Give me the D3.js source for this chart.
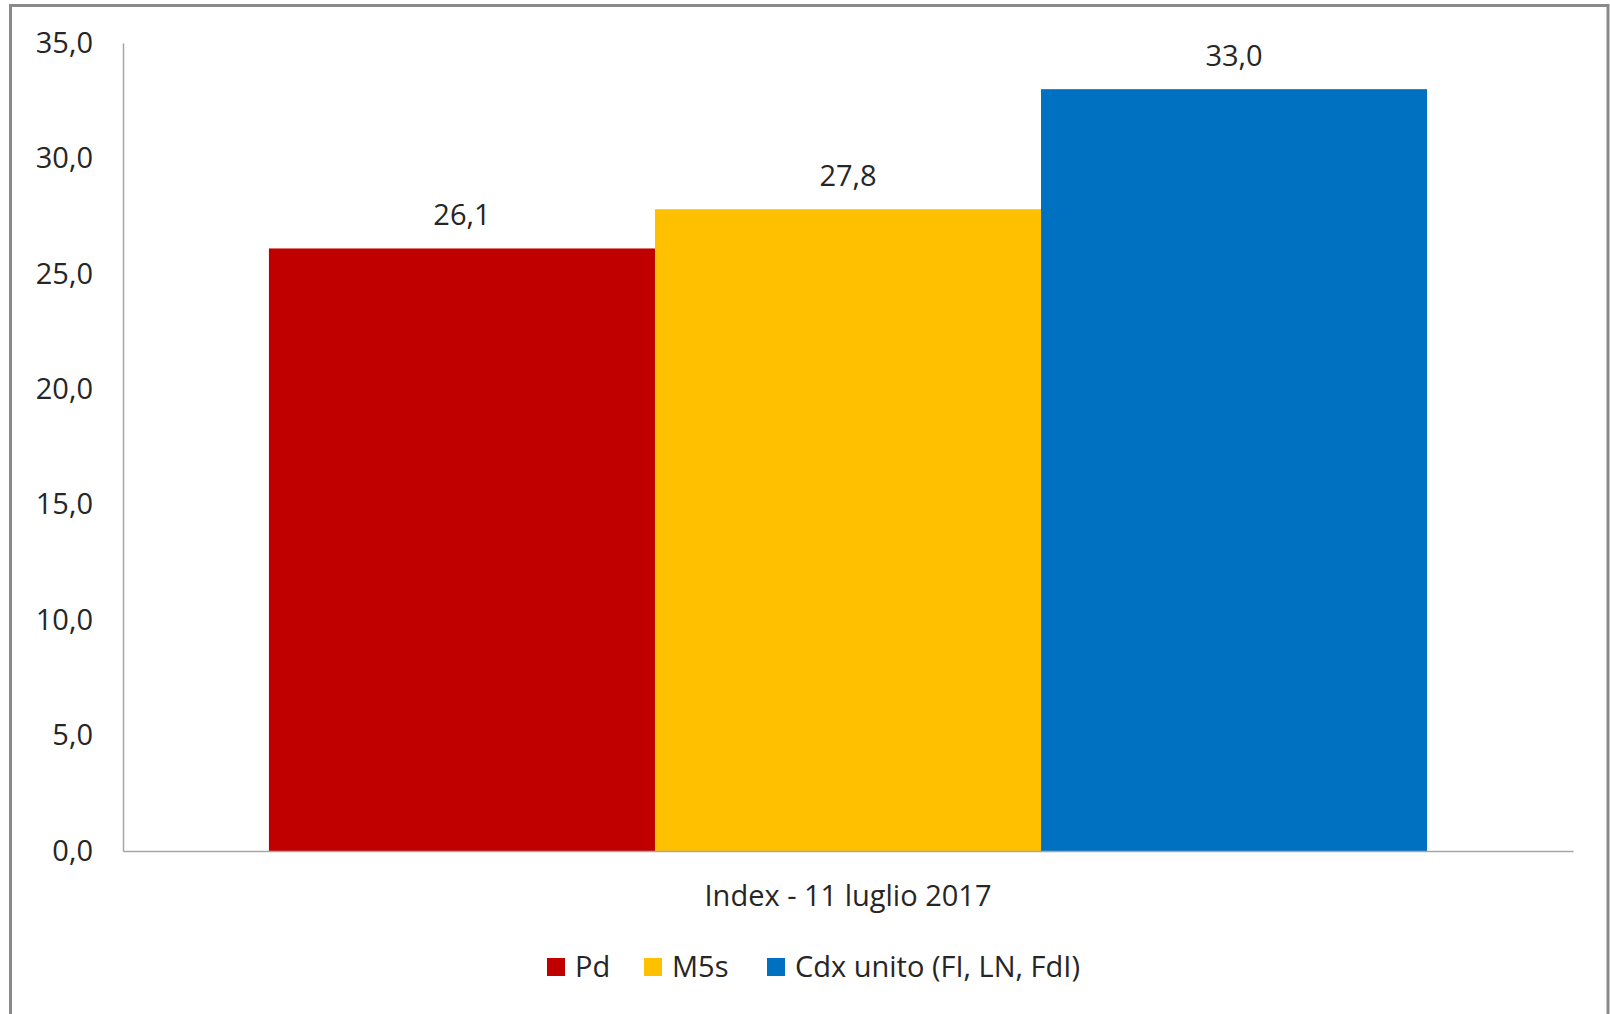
<!DOCTYPE html>
<html>
<head>
<meta charset="utf-8">
<script src="https://cdn.jsdelivr.net/npm/d3@7"></script>
<style>
  html, body { margin: 0; padding: 0; background: #fff; }
  svg { display: block; }
  text { font-family: "Open Sans", "Noto Sans", sans-serif; fill: #262626; }
</style>
</head>
<body>
<script>
// ---- data ----
const categories = ["Index - 11 luglio 2017"];
const seriesNames = ["Pd", "M5s", "Cdx unito (FI, LN, FdI)"];
const seriesValues = [26.1, 27.8, 33.0];
const seriesColors = ["#C00000", "#FFC000", "#0070C0"];
const yTicks = [0, 5, 10, 15, 20, 25, 30, 35];

(function () {
const W = 1610, H = 1014;
const svg = d3.select("body").append("svg").attr("width", W).attr("height", H);

// outer chart border
svg.append("rect")
  .attr("x", 10.5).attr("y", 5.5).attr("width", 1597.5).attr("height", 1030)
  .attr("fill", "#fff").attr("stroke", "#8a8a8a").attr("stroke-width", 3);

const pLeft = 123, pRight = 1573, pTop = 43, pBottom = 851;

const y = d3.scaleLinear().domain([0, 35]).range([pBottom, pTop]);
const x0 = d3.scaleBand().domain(categories).range([pLeft, pRight])
  .paddingInner(0).paddingOuter(0.126);
const x1 = d3.scaleBand().domain(seriesNames).range([0, x0.bandwidth()]).padding(0);

const fmt = v => d3.format(".1f")(v).replace(".", ",");

// bars
const g = svg.append("g");
categories.forEach(cat => {
  const data = seriesNames.map((s, i) => ({ s, v: seriesValues[i], c: seriesColors[i] }));
  g.selectAll(null).data(data).enter().append("rect")
    .attr("x", d => x0(cat) + x1(d.s))
    .attr("y", d => y(d.v))
    .attr("width", x1.bandwidth())
    .attr("height", d => y(0) - y(d.v))
    .attr("fill", d => d.c);
  g.selectAll(null).data(data).enter().append("text")
    .attr("x", d => x0(cat) + x1(d.s) + x1.bandwidth() / 2)
    .attr("y", d => y(d.v) - 23)
    .attr("text-anchor", "middle")
    .attr("font-size", 29)
    .text(d => fmt(d.v));
});

// y axis
const yAxis = svg.append("g").attr("transform", `translate(${pLeft},0)`)
  .call(d3.axisLeft(y).tickValues(yTicks).tickSize(0).tickPadding(30).tickFormat(fmt));
yAxis.select(".domain").attr("stroke", "#a6a6a6").attr("stroke-width", 1.5);
yAxis.selectAll("text").attr("font-size", 29).attr("fill", "#262626")
  .style("font-family", '"Open Sans", sans-serif');

// x axis
const xAxis = svg.append("g").attr("transform", `translate(0,${pBottom})`)
  .call(d3.axisBottom(x0).tickSize(0).tickPadding(0));
xAxis.select(".domain").attr("stroke", "#a6a6a6").attr("stroke-width", 1.5);
xAxis.selectAll("text").attr("font-size", 29).attr("fill", "#262626")
  .attr("dy", null).attr("y", 55)
  .style("font-family", '"Open Sans", sans-serif');

// legend
const legendX = [547, 644, 767];
const legend = svg.append("g");
seriesNames.forEach((s, i) => {
  legend.append("rect").attr("x", legendX[i]).attr("y", 958)
    .attr("width", 18).attr("height", 18).attr("fill", seriesColors[i]);
  legend.append("text").attr("x", legendX[i] + 28).attr("y", 977)
    .attr("font-size", 29).text(s);
});
})();
</script>
</body>
</html>
